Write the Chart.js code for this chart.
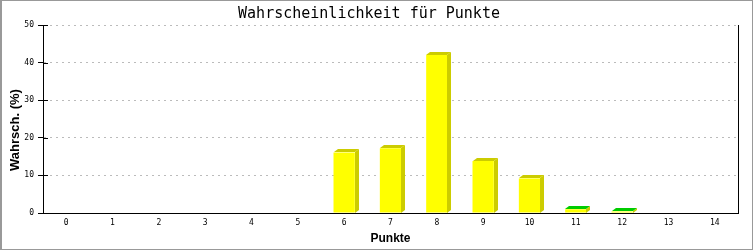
<!DOCTYPE html>
<html>
<head>
<meta charset="utf-8">
<script src="https://cdn.jsdelivr.net/npm/chart.js@4/dist/chart.umd.min.js"></script>
<style>
  html, body { margin: 0; padding: 0; background: #fff; }
  #wrap { position: relative; width: 753px; height: 250px; }
  #wrap:after { content: ""; position: absolute; left: 0; top: 0; height: 248px; border: 1px solid #999; border-left-width: 2px; width: 750px; pointer-events: none; }
  canvas { display: block; }
</style>
</head>
<body>
<div id="wrap"><canvas id="c" width="753" height="250"></canvas></div>
<script>
const categories = ['0','1','2','3','4','5','6','7','8','9','10','11','12','13','14'];
const probabilities = [0, 0, 0, 0, 0, 0, 16.1, 17.2, 42.0, 13.8, 9.2, 1.0, 0.4, 0, 0];
const yTickValues = [0, 10, 20, 30, 40, 50];
const chartTitle = 'Wahrscheinlichkeit für Punkte';
const xTitle = 'Punkte';
const yTitle = 'Wahrsch. (%)';

const SIDE = '#cccc00';
const GREEN = '#00cc00';
const DX = 4, DY = 3;

const bar3d = {
  id: 'bar3d',
  afterDatasetsDraw(chart) {
    const ctx = chart.ctx;
    const meta = chart.getDatasetMeta(0);
    const a = chart.chartArea;
    const ys = chart.scales.y;
    ctx.save();
    ctx.strokeStyle = '#000';
    ctx.lineWidth = 1;
    ctx.beginPath();
    const by = Math.round(ys.getPixelForValue(0)) + 0.5;
    ctx.moveTo(a.left, by); ctx.lineTo(Math.round(a.right) + 1, by);
    ctx.moveTo(Math.round(a.right) + 0.5, a.top);
    ctx.lineTo(Math.round(a.right) + 0.5, by);
    yTickValues.forEach(v => {
      const y = Math.round(ys.getPixelForValue(v)) + 0.5;
      ctx.moveTo(a.left, y); ctx.lineTo(a.left + 5, y);
    });
    ctx.stroke();
    meta.data.forEach((el, i) => {
      const v = probabilities[i];
      if (!v) return;
      const p = el.getProps(['x', 'y', 'width', 'base'], true);
      const l = Math.round(p.x - p.width / 2), r = Math.round(p.x + p.width / 2);
      const t = Math.round(p.y), b = Math.round(p.base);
      ctx.fillStyle = SIDE;
      ctx.beginPath();
      ctx.moveTo(r, t); ctx.lineTo(r + DX, t - DY); ctx.lineTo(r + DX, b - DY); ctx.lineTo(r, b);
      ctx.closePath(); ctx.fill();
      ctx.fillStyle = v < 5 ? GREEN : SIDE;
      ctx.beginPath();
      ctx.moveTo(l, t); ctx.lineTo(l + DX, t - DY); ctx.lineTo(r + DX, t - DY); ctx.lineTo(r, t);
      ctx.closePath(); ctx.fill();
    });
    // y axis title
    ctx.translate(15, 130);
    ctx.rotate(-Math.PI / 2);
    ctx.fillStyle = '#000';
    ctx.font = 'bold 13px "Liberation Sans"';
    ctx.textAlign = 'center';
    ctx.textBaseline = 'middle';
    ctx.fillText(yTitle, 0, 0);
    ctx.restore();
  }
};

new Chart(document.getElementById('c'), {
  type: 'bar',
  data: {
    labels: categories,
    datasets: [{
      data: probabilities,
      backgroundColor: '#ffff00',
      borderWidth: 0,
      barPercentage: 0.46,
      categoryPercentage: 1.0
    }]
  },
  plugins: [bar3d],
  options: {
    responsive: false,
    animation: false,
    layout: { padding: { left: 0, right: 15, top: 0, bottom: 0 } },
    plugins: {
      legend: { display: false },
      tooltip: { enabled: false },
      title: {
        display: true,
        text: chartTitle,
        color: '#000',
        font: { family: 'DejaVu Sans Mono', size: 15, weight: 'normal', lineHeight: 1.2 },
        padding: { top: 5, bottom: 2 }
      }
    },
    scales: {
      x: {
        offset: true,
        grid: { display: false, drawTicks: false },
        border: { display: true, color: '#000', width: 1 },
        ticks: { color: '#000', font: { family: 'DejaVu Sans Mono', size: 8 }, padding: 5, maxRotation: 0, autoSkip: false },
        title: { display: true, text: xTitle, color: '#000', font: { family: 'Liberation Sans', size: 12, weight: 'bold' }, padding: { top: 0, bottom: 4 } },
        afterFit(s) { s.height = 37; }
      },
      y: {
        min: 0, max: 50,
        afterBuildTicks(s) { s.ticks = yTickValues.map(v => ({ value: v })); },
        grid: { color: '#bbbbbb', tickColor: '#000', tickLength: 5, drawTicks: true, tickBorderDash: [] },
        border: { display: true, color: '#000', width: 1, dash: [2, 4] },
        ticks: { color: '#000', font: { family: 'DejaVu Sans Mono', size: 8 }, padding: 4 },
        title: { display: false },
        afterFit(s) { s.width = 43; }
      }
    }
  }
});
</script>
</body>
</html>
